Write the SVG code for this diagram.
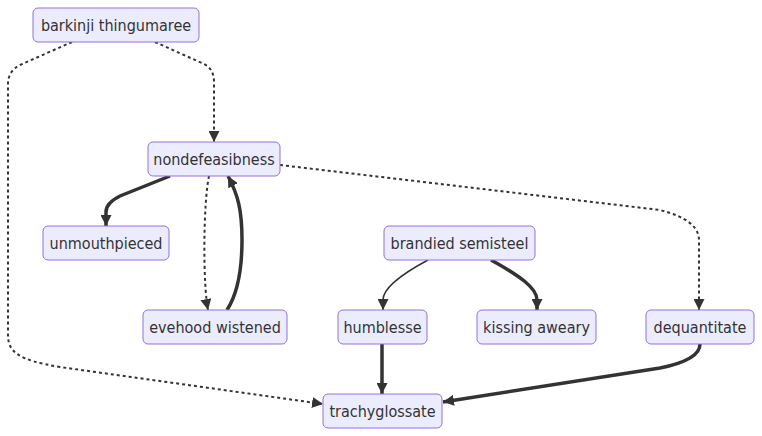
<svg xmlns="http://www.w3.org/2000/svg" width="762" height="436" viewBox="0 0 762 436">
<defs>
<marker id="arr" viewBox="0 0 10 10" refX="10" refY="5" markerUnits="userSpaceOnUse" markerWidth="11" markerHeight="11" orient="auto">
<path d="M0,0 L10,5 L0,10 z" fill="#333"/>
</marker>
<style>
.node rect{fill:#ECECFF;stroke:#9370DB;stroke-width:1}
.node text{font-family:"DejaVu Sans Condensed","DejaVu Sans",sans-serif;font-stretch:condensed;font-size:16px;fill:#333;text-anchor:middle}
.e{fill:none;stroke:#333;marker-end:url(#arr)}
.thin{stroke-width:1.6}
.thick{stroke-width:3.5}
.dot{stroke-width:2;stroke-dasharray:3 3}
</style>
</defs>
<rect width="762" height="436" fill="#fff"/>
<g id="connectors">
<path class="e dot" d="M155,42 L204,64 Q214,69 214,82 L214,142"/>
<path class="e dot" d="M72,42 L20,65 Q8,71 8,84 L8,335 C8,352 18,360 60,367 L323,404"/>
<path class="e thick" d="M170,176 L120,196 Q106,203 106,212 L106,226"/>
<path class="e dot" d="M209,176 C203,205 203,285 208,310"/>
<path class="e thick" d="M227,310 C240,290 242,260 242,240 C242,210 238,195 228,176"/>
<path class="e dot" d="M280,165 L660,210 Q699,220 699,240 L699,310"/>
<path class="e thin" d="M428,260 C400,275 383,288 383,300 L383,310"/>
<path class="e thick" d="M491,260 C520,276 537,288 537,300 L537,310"/>
<path class="e thick" d="M382,344 L382,394"/>
<path class="e thick" d="M700,344 Q700,360 660,368 L443,402"/>
</g>
<g id="barkinji" class="node"><rect x="33" y="8" width="166" height="34" rx="5"/><text x="116" y="31">barkinji thingumaree</text></g>
<g id="nondefeasibness" class="node"><rect x="148" y="142" width="132" height="34" rx="5"/><text x="214" y="165">nondefeasibness</text></g>
<g id="unmouthpieced" class="node"><rect x="43" y="226" width="126" height="34" rx="5"/><text x="106" y="249">unmouthpieced</text></g>
<g id="evehood" class="node"><rect x="143" y="310" width="144" height="34" rx="5"/><text x="215" y="333">evehood wistened</text></g>
<g id="brandied" class="node"><rect x="384" y="226" width="151" height="34" rx="5"/><text x="459.5" y="249">brandied semisteel</text></g>
<g id="humblesse" class="node"><rect x="338" y="310" width="89" height="34" rx="5"/><text x="382.5" y="333">humblesse</text></g>
<g id="kissing" class="node"><rect x="477" y="310" width="119" height="34" rx="5"/><text x="536.5" y="333">kissing aweary</text></g>
<g id="dequantitate" class="node"><rect x="646" y="310" width="108" height="34" rx="5"/><text x="700" y="333">dequantitate</text></g>
<g id="trachyglossate" class="node"><rect x="323" y="394" width="119" height="34" rx="5"/><text x="382.5" y="417">trachyglossate</text></g>
</svg>
